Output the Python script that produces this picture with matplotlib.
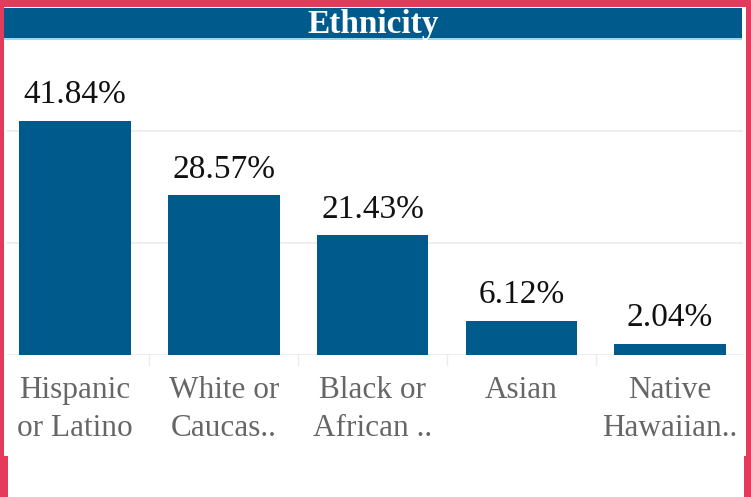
import matplotlib.pyplot as plt
from matplotlib.patches import Rectangle

categories = ["Hispanic\nor Latino", "White or\nCaucas..", "Black or\nAfrican ..", "Asian", "Native\nHawaiian.."]
values = [41.84, 28.57, 21.43, 6.12, 2.04]
grid_values = [0, 20, 40]

W, H = 751, 497
blue = "#005A8C"
red = "#E33B5B"

plt.rcParams["font.family"] = ["Liberation Serif", "DejaVu Serif"]

fig = plt.figure(figsize=(W / 100, H / 100), dpi=100)
fig.patch.set_facecolor(red)


def px_rect(x0, y0, x1, y1, color, z=0):
    # rectangle in pixel coords (origin top-left)
    fig.patches.append(Rectangle((x0 / W, 1 - y1 / H), (x1 - x0) / W, (y1 - y0) / H,
                                 transform=fig.transFigure, facecolor=color,
                                 edgecolor="none", zorder=z))


# white panel and lower white strip
px_rect(4, 7, 746, 456, "white", z=-2)
px_rect(8, 455, 744, 497, "white", z=-2)
# title bar
px_rect(4, 8, 742, 38, blue, z=1)
px_rect(4, 38, 742, 39.5, "#9FD8E8", z=1)
fig.text(373 / W, 1 - 33.5 / H, "Ethnicity", color="white", fontsize=24,
         fontweight="bold", ha="center", va="baseline", zorder=2)

ax = fig.add_axes([0.5 / W, 1 - 355 / H, 744 / W, 310 / H])
ax.set_zorder(5)
ax.set_facecolor("none")
x = range(len(categories))
bars = ax.bar(x, values, width=0.75, color=blue, zorder=3)
ax.set_xlim(-0.5, len(categories) - 0.5)
ax.set_ylim(0, 55.36)

ax.hlines(grid_values, -0.455, 4.487, color="#EBEBEB", linewidth=1.2, zorder=1)
for b in range(1, len(categories)):
    ax.plot([b - 0.5, b - 0.5], [0, -1.8], color="#EBEBEB", linewidth=1,
            clip_on=False, zorder=1)

for rect, v in zip(bars, values):
    ax.annotate(f"{v:.2f}%", (rect.get_x() + rect.get_width() / 2, v),
                xytext=(0, 7.5), textcoords="offset points", ha="center",
                va="bottom", fontsize=24, color="#111111")

ax.set_xticks(list(x))
ax.set_xticklabels(categories, fontsize=22.5, color="#666666", linespacing=1.4)
ax.tick_params(axis="x", length=0, pad=15)
ax.set_yticks([])
for s in ax.spines.values():
    s.set_visible(False)

fig.savefig("out.png", dpi=100, facecolor=fig.get_facecolor())
